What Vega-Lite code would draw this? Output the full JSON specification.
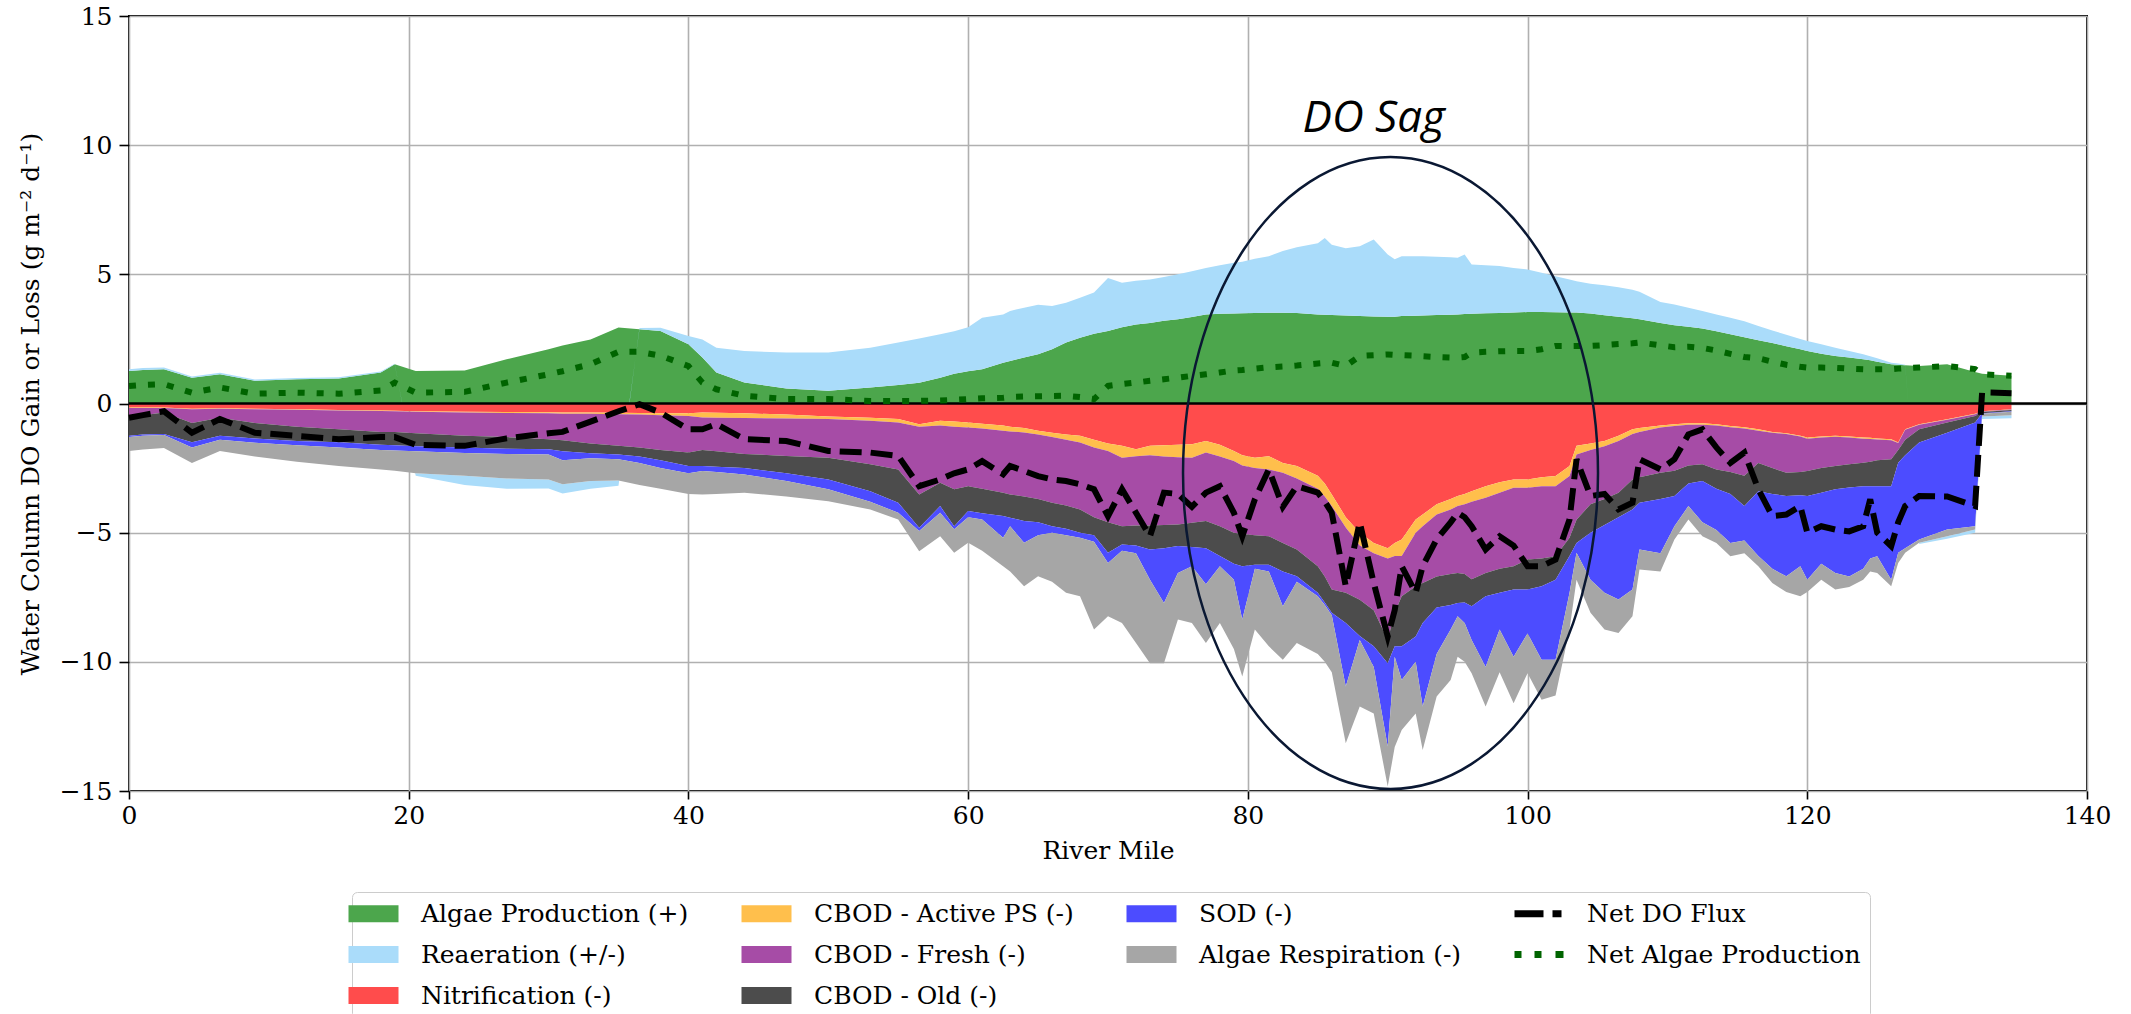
{
  "$schema": "https://vega.github.io/schema/vega-lite/v6.json",
  "width": 1958,
  "height": 775,
  "autosize": {"type": "none"},
  "padding": {"left": 129, "top": 16, "right": 44, "bottom": 223},
  "background": "white",
  "config": {
    "view": {"stroke": "black", "strokeWidth": 2},
    "font": "DejaVu Serif, Liberation Serif, serif",
    "axis": {"grid": true, "gridColor": "#b0b0b0", "gridWidth": 1.6, "domain": false, "tickColor": "black", "tickWidth": 1.6, "labelFont": "DejaVu Serif, Liberation Serif, serif", "labelFontSize": 25, "labelColor": "black", "labelFlush": false, "labelOverlap": false, "titleFont": "DejaVu Serif, Liberation Serif, serif", "titleFontSize": 25, "titleFontWeight": "normal", "titleColor": "black", "zindex": 1}
  },
  "title": {"text": "2020-07-01", "font": "DejaVu Serif, Liberation Serif, serif", "fontSize": 30, "fontWeight": "normal", "color": "black", "offset": 12, "baseline": "alphabetic", "anchor": "middle"},
  "datasets": {
    "flux": [
      {"x": 0, "ap": 1.26, "re": 0.07, "ni": -0.15, "ca": -0.02, "cf": -0.33, "co": -0.75, "sod": -0.05, "ar": -0.54, "ndo": -0.55, "nap": 0.68},
      {"x": 1, "ap": 1.3, "re": 0.07, "ni": -0.15, "ca": -0.02, "cf": -0.28, "co": -0.75, "sod": -0.05, "ar": -0.53, "ndo": -0.45, "nap": 0.72},
      {"x": 2.5, "ap": 1.33, "re": 0.06, "ni": -0.15, "ca": -0.02, "cf": -0.18, "co": -0.83, "sod": -0.04, "ar": -0.5, "ndo": -0.3, "nap": 0.75},
      {"x": 4.5, "ap": 1.0, "re": 0.05, "ni": -0.2, "ca": -0.02, "cf": -0.53, "co": -0.75, "sod": -0.2, "ar": -0.6, "ndo": -1.13, "nap": 0.42},
      {"x": 6.5, "ap": 1.13, "re": 0.06, "ni": -0.18, "ca": -0.02, "cf": -0.35, "co": -0.7, "sod": -0.15, "ar": -0.44, "ndo": -0.6, "nap": 0.62},
      {"x": 9, "ap": 0.88, "re": 0.05, "ni": -0.2, "ca": -0.02, "cf": -0.53, "co": -0.6, "sod": -0.17, "ar": -0.53, "ndo": -1.13, "nap": 0.38},
      {"x": 12, "ap": 0.94, "re": 0.05, "ni": -0.22, "ca": -0.02, "cf": -0.66, "co": -0.55, "sod": -0.17, "ar": -0.63, "ndo": -1.25, "nap": 0.42},
      {"x": 15, "ap": 0.97, "re": 0.05, "ni": -0.25, "ca": -0.02, "cf": -0.73, "co": -0.5, "sod": -0.2, "ar": -0.72, "ndo": -1.38, "nap": 0.38},
      {"x": 18, "ap": 1.2, "re": 0.04, "ni": -0.27, "ca": -0.02, "cf": -0.81, "co": -0.5, "sod": -0.2, "ar": -0.75, "ndo": -1.3, "nap": 0.5},
      {"x": 19, "ap": 1.52, "re": 0.02, "ni": -0.28, "ca": -0.02, "cf": -0.8, "co": -0.52, "sod": -0.2, "ar": -0.78, "ndo": -1.3, "nap": 0.81},
      {"x": 20.5, "ap": 1.26, "re": -0.1, "ni": -0.3, "ca": -0.02, "cf": -0.83, "co": -0.5, "sod": -0.2, "ar": -0.85, "ndo": -1.6, "nap": 0.42},
      {"x": 24, "ap": 1.28, "re": -0.35, "ni": -0.32, "ca": -0.03, "cf": -0.9, "co": -0.45, "sod": -0.22, "ar": -0.88, "ndo": -1.64, "nap": 0.45},
      {"x": 27, "ap": 1.71, "re": -0.4, "ni": -0.33, "ca": -0.04, "cf": -0.93, "co": -0.45, "sod": -0.2, "ar": -0.95, "ndo": -1.35, "nap": 0.81},
      {"x": 30, "ap": 2.1, "re": -0.35, "ni": -0.34, "ca": -0.04, "cf": -1.0, "co": -0.39, "sod": -0.2, "ar": -0.97, "ndo": -1.15, "nap": 1.13},
      {"x": 31, "ap": 2.25, "re": -0.35, "ni": -0.35, "ca": -0.05, "cf": -1.02, "co": -0.43, "sod": -0.35, "ar": -0.93, "ndo": -1.1, "nap": 1.25},
      {"x": 33, "ap": 2.48, "re": -0.3, "ni": -0.35, "ca": -0.05, "cf": -1.15, "co": -0.38, "sod": -0.19, "ar": -0.88, "ndo": -0.7, "nap": 1.52},
      {"x": 35, "ap": 2.94, "re": -0.2, "ni": -0.36, "ca": -0.06, "cf": -1.22, "co": -0.33, "sod": -0.19, "ar": -0.82, "ndo": -0.3, "nap": 2.0},
      {"x": 36.5, "ap": 2.87, "re": 0.05, "ni": -0.37, "ca": -0.06, "cf": -1.27, "co": -0.35, "sod": -0.25, "ar": -0.85, "ndo": -0.03, "nap": 2.0},
      {"x": 38, "ap": 2.81, "re": 0.12, "ni": -0.38, "ca": -0.07, "cf": -1.35, "co": -0.4, "sod": -0.3, "ar": -0.8, "ndo": -0.35, "nap": 1.85},
      {"x": 40, "ap": 2.29, "re": 0.32, "ni": -0.38, "ca": -0.1, "cf": -1.42, "co": -0.52, "sod": -0.28, "ar": -0.8, "ndo": -1.0, "nap": 1.45},
      {"x": 41, "ap": 1.78, "re": 0.7, "ni": -0.35, "ca": -0.19, "cf": -1.26, "co": -0.62, "sod": -0.19, "ar": -0.91, "ndo": -1.0, "nap": 0.81},
      {"x": 42, "ap": 1.2, "re": 0.96, "ni": -0.36, "ca": -0.19, "cf": -1.3, "co": -0.6, "sod": -0.2, "ar": -0.85, "ndo": -0.8, "nap": 0.55},
      {"x": 44, "ap": 0.81, "re": 1.22, "ni": -0.38, "ca": -0.18, "cf": -1.39, "co": -0.55, "sod": -0.25, "ar": -0.7, "ndo": -1.38, "nap": 0.3},
      {"x": 47, "ap": 0.58, "re": 1.39, "ni": -0.43, "ca": -0.15, "cf": -1.45, "co": -0.67, "sod": -0.3, "ar": -0.6, "ndo": -1.45, "nap": 0.17},
      {"x": 50, "ap": 0.49, "re": 1.48, "ni": -0.5, "ca": -0.1, "cf": -1.5, "co": -0.84, "sod": -0.38, "ar": -0.46, "ndo": -1.84, "nap": 0.17},
      {"x": 53, "ap": 0.62, "re": 1.54, "ni": -0.55, "ca": -0.12, "cf": -1.68, "co": -1.05, "sod": -0.4, "ar": -0.3, "ndo": -1.9, "nap": 0.1},
      {"x": 55, "ap": 0.72, "re": 1.64, "ni": -0.6, "ca": -0.14, "cf": -1.81, "co": -1.29, "sod": -0.39, "ar": -0.26, "ndo": -2.03, "nap": 0.1},
      {"x": 56.5, "ap": 0.8, "re": 1.72, "ni": -0.8, "ca": -0.1, "cf": -2.62, "co": -1.29, "sod": -0.13, "ar": -0.78, "ndo": -3.2, "nap": 0.1},
      {"x": 58, "ap": 1.0, "re": 1.68, "ni": -0.67, "ca": -0.18, "cf": -2.22, "co": -0.9, "sod": -0.26, "ar": -0.91, "ndo": -2.94, "nap": 0.12},
      {"x": 59, "ap": 1.15, "re": 1.65, "ni": -0.7, "ca": -0.2, "cf": -2.42, "co": -1.43, "sod": -0.12, "ar": -0.91, "ndo": -2.7, "nap": 0.14},
      {"x": 60, "ap": 1.25, "re": 1.7, "ni": -0.74, "ca": -0.19, "cf": -2.27, "co": -0.96, "sod": -0.24, "ar": -0.99, "ndo": -2.55, "nap": 0.17},
      {"x": 61, "ap": 1.33, "re": 1.99, "ni": -0.78, "ca": -0.19, "cf": -2.33, "co": -0.95, "sod": -0.24, "ar": -1.21, "ndo": -2.23, "nap": 0.2},
      {"x": 62.5, "ap": 1.58, "re": 1.87, "ni": -0.85, "ca": -0.2, "cf": -2.4, "co": -0.9, "sod": -0.85, "ar": -1.1, "ndo": -2.74, "nap": 0.22},
      {"x": 63, "ap": 1.65, "re": 1.93, "ni": -0.9, "ca": -0.18, "cf": -2.44, "co": -0.9, "sod": -0.33, "ar": -1.75, "ndo": -2.42, "nap": 0.25},
      {"x": 64, "ap": 1.78, "re": 1.93, "ni": -0.95, "ca": -0.17, "cf": -2.48, "co": -0.95, "sod": -0.84, "ar": -1.68, "ndo": -2.61, "nap": 0.27},
      {"x": 65, "ap": 1.91, "re": 1.91, "ni": -1.05, "ca": -0.15, "cf": -2.5, "co": -0.9, "sod": -0.5, "ar": -1.59, "ndo": -2.81, "nap": 0.28},
      {"x": 66, "ap": 2.1, "re": 1.67, "ni": -1.13, "ca": -0.17, "cf": -2.54, "co": -0.91, "sod": -0.25, "ar": -1.9, "ndo": -2.94, "nap": 0.29},
      {"x": 67, "ap": 2.36, "re": 1.54, "ni": -1.2, "ca": -0.2, "cf": -2.55, "co": -0.9, "sod": -0.25, "ar": -2.23, "ndo": -3.0, "nap": 0.3},
      {"x": 68, "ap": 2.55, "re": 1.54, "ni": -1.25, "ca": -0.26, "cf": -2.59, "co": -0.9, "sod": -0.2, "ar": -2.26, "ndo": -3.13, "nap": 0.25},
      {"x": 69, "ap": 2.7, "re": 1.6, "ni": -1.4, "ca": -0.3, "cf": -2.7, "co": -0.7, "sod": -0.25, "ar": -3.4, "ndo": -3.32, "nap": 0.17},
      {"x": 70, "ap": 2.81, "re": 2.05, "ni": -1.55, "ca": -0.29, "cf": -2.76, "co": -1.18, "sod": -0.39, "ar": -2.07, "ndo": -4.36, "nap": 0.68},
      {"x": 71, "ap": 2.95, "re": 1.72, "ni": -1.64, "ca": -0.46, "cf": -2.65, "co": -0.71, "sod": -0.24, "ar": -2.8, "ndo": -3.32, "nap": 0.75},
      {"x": 72, "ap": 3.06, "re": 1.69, "ni": -1.77, "ca": -0.27, "cf": -2.68, "co": -0.78, "sod": -0.3, "ar": -3.47, "ndo": -4.23, "nap": 0.81},
      {"x": 73, "ap": 3.12, "re": 1.68, "ni": -1.64, "ca": -0.36, "cf": -2.72, "co": -0.93, "sod": -1.17, "ar": -3.23, "ndo": -5.14, "nap": 0.88},
      {"x": 74, "ap": 3.2, "re": 1.7, "ni": -1.62, "ca": -0.43, "cf": -2.65, "co": -0.9, "sod": -2.12, "ar": -2.33, "ndo": -3.45, "nap": 0.94},
      {"x": 75, "ap": 3.26, "re": 1.74, "ni": -1.6, "ca": -0.48, "cf": -2.6, "co": -0.84, "sod": -1.04, "ar": -1.8, "ndo": -3.5, "nap": 1.0},
      {"x": 76, "ap": 3.35, "re": 1.77, "ni": -1.58, "ca": -0.52, "cf": -2.52, "co": -0.93, "sod": -0.75, "ar": -2.2, "ndo": -4.0, "nap": 1.07},
      {"x": 77, "ap": 3.45, "re": 1.8, "ni": -1.45, "ca": -0.45, "cf": -2.65, "co": -1.05, "sod": -1.4, "ar": -2.27, "ndo": -3.45, "nap": 1.13},
      {"x": 78, "ap": 3.47, "re": 1.88, "ni": -1.6, "ca": -0.45, "cf": -2.7, "co": -1.15, "sod": -0.4, "ar": -2.2, "ndo": -3.2, "nap": 1.2},
      {"x": 79, "ap": 3.48, "re": 1.97, "ni": -1.84, "ca": -0.39, "cf": -2.77, "co": -1.2, "sod": -0.62, "ar": -2.68, "ndo": -4.23, "nap": 1.28},
      {"x": 79.6, "ap": 3.49, "re": 2.0, "ni": -2.0, "ca": -0.4, "cf": -2.65, "co": -1.25, "sod": -2.06, "ar": -2.21, "ndo": -5.14, "nap": 1.3},
      {"x": 80.5, "ap": 3.5, "re": 2.1, "ni": -2.1, "ca": -0.4, "cf": -2.6, "co": -1.14, "sod": -0.16, "ar": -2.35, "ndo": -3.71, "nap": 1.35},
      {"x": 81.5, "ap": 3.51, "re": 2.19, "ni": -2.04, "ca": -0.51, "cf": -2.59, "co": -1.1, "sod": -0.26, "ar": -2.9, "ndo": -2.55, "nap": 1.4},
      {"x": 82.5, "ap": 3.51, "re": 2.39, "ni": -2.3, "ca": -0.38, "cf": -2.72, "co": -1.1, "sod": -1.35, "ar": -2.07, "ndo": -4.0, "nap": 1.43},
      {"x": 83.5, "ap": 3.5, "re": 2.55, "ni": -2.42, "ca": -0.48, "cf": -2.75, "co": -1.04, "sod": -0.21, "ar": -2.37, "ndo": -3.2, "nap": 1.47},
      {"x": 85, "ap": 3.45, "re": 2.75, "ni": -2.8, "ca": -0.5, "cf": -3.0, "co": -1.03, "sod": -0.13, "ar": -2.24, "ndo": -3.45, "nap": 1.55},
      {"x": 85.5, "ap": 3.44, "re": 2.97, "ni": -3.1, "ca": -0.5, "cf": -3.1, "co": -1.0, "sod": -0.1, "ar": -2.2, "ndo": -3.8, "nap": 1.57},
      {"x": 86, "ap": 3.43, "re": 2.72, "ni": -3.52, "ca": -0.45, "cf": -3.23, "co": -0.9, "sod": -0.1, "ar": -2.2, "ndo": -4.23, "nap": 1.58},
      {"x": 87, "ap": 3.41, "re": 2.6, "ni": -4.4, "ca": -0.4, "cf": -2.53, "co": -1.17, "sod": -2.45, "ar": -2.2, "ndo": -7.07, "nap": 1.45},
      {"x": 88, "ap": 3.39, "re": 2.7, "ni": -5.0, "ca": -0.5, "cf": -2.1, "co": -1.4, "sod": -0.15, "ar": -2.58, "ndo": -4.6, "nap": 1.84},
      {"x": 89, "ap": 3.37, "re": 2.98, "ni": -5.4, "ca": -0.4, "cf": -2.2, "co": -1.4, "sod": -0.8, "ar": -1.8, "ndo": -6.95, "nap": 1.87},
      {"x": 90, "ap": 3.36, "re": 2.41, "ni": -5.6, "ca": -0.4, "cf": -3.15, "co": -0.9, "sod": -3.23, "ar": -1.55, "ndo": -9.02, "nap": 1.9},
      {"x": 90.5, "ap": 3.36, "re": 2.22, "ni": -5.4, "ca": -0.5, "cf": -2.2, "co": -1.3, "sod": -0.4, "ar": -3.5, "ndo": -8.0, "nap": 1.88},
      {"x": 91, "ap": 3.39, "re": 2.31, "ni": -5.26, "ca": -0.64, "cf": -1.56, "co": -1.94, "sod": -1.3, "ar": -1.94, "ndo": -6.3, "nap": 1.87},
      {"x": 92, "ap": 3.4, "re": 2.3, "ni": -4.49, "ca": -0.51, "cf": -2.07, "co": -1.95, "sod": -0.98, "ar": -2.0, "ndo": -7.33, "nap": 1.85},
      {"x": 92.5, "ap": 3.41, "re": 2.29, "ni": -4.3, "ca": -0.45, "cf": -2.2, "co": -1.55, "sod": -3.23, "ar": -1.68, "ndo": -6.3, "nap": 1.83},
      {"x": 93.5, "ap": 3.43, "re": 2.25, "ni": -3.9, "ca": -0.4, "cf": -2.4, "co": -1.2, "sod": -1.8, "ar": -1.64, "ndo": -5.26, "nap": 1.8},
      {"x": 94.5, "ap": 3.44, "re": 2.22, "ni": -3.7, "ca": -0.4, "cf": -2.5, "co": -1.2, "sod": -0.95, "ar": -1.95, "ndo": -4.6, "nap": 1.78},
      {"x": 95, "ap": 3.45, "re": 2.19, "ni": -3.58, "ca": -0.39, "cf": -2.59, "co": -1.16, "sod": -0.52, "ar": -1.56, "ndo": -4.23, "nap": 1.78},
      {"x": 95.5, "ap": 3.46, "re": 2.31, "ni": -3.5, "ca": -0.4, "cf": -2.7, "co": -1.1, "sod": -0.8, "ar": -1.5, "ndo": -4.4, "nap": 1.8},
      {"x": 96, "ap": 3.47, "re": 1.91, "ni": -3.4, "ca": -0.4, "cf": -3.0, "co": -1.05, "sod": -1.3, "ar": -1.29, "ndo": -4.75, "nap": 1.97},
      {"x": 97, "ap": 3.49, "re": 1.86, "ni": -3.2, "ca": -0.45, "cf": -2.91, "co": -0.9, "sod": -2.74, "ar": -1.53, "ndo": -5.65, "nap": 2.0},
      {"x": 98, "ap": 3.5, "re": 1.82, "ni": -3.05, "ca": -0.4, "cf": -2.95, "co": -0.93, "sod": -1.42, "ar": -1.65, "ndo": -5.14, "nap": 2.02},
      {"x": 99, "ap": 3.52, "re": 1.73, "ni": -2.94, "ca": -0.32, "cf": -3.04, "co": -0.9, "sod": -2.6, "ar": -1.8, "ndo": -5.5, "nap": 2.03},
      {"x": 100, "ap": 3.54, "re": 1.65, "ni": -2.94, "ca": -0.32, "cf": -2.78, "co": -1.16, "sod": -1.7, "ar": -1.54, "ndo": -6.3, "nap": 2.03},
      {"x": 101, "ap": 3.54, "re": 1.52, "ni": -2.85, "ca": -0.35, "cf": -2.8, "co": -1.07, "sod": -2.85, "ar": -1.55, "ndo": -6.3, "nap": 2.1},
      {"x": 102, "ap": 3.53, "re": 1.4, "ni": -2.81, "ca": -0.39, "cf": -2.71, "co": -0.91, "sod": -3.1, "ar": -1.38, "ndo": -6.04, "nap": 2.23},
      {"x": 103, "ap": 3.52, "re": 1.28, "ni": -2.42, "ca": -0.39, "cf": -2.39, "co": -0.7, "sod": -1.43, "ar": -1.42, "ndo": -4.49, "nap": 2.23},
      {"x": 103.5, "ap": 3.52, "re": 1.21, "ni": -1.64, "ca": -0.33, "cf": -2.53, "co": -0.9, "sod": -0.38, "ar": -1.04, "ndo": -2.16, "nap": 2.23},
      {"x": 104.5, "ap": 3.48, "re": 1.16, "ni": -1.55, "ca": -0.25, "cf": -2.1, "co": -1.1, "sod": -1.82, "ar": -1.28, "ndo": -3.58, "nap": 2.23},
      {"x": 105.5, "ap": 3.42, "re": 1.16, "ni": -1.45, "ca": -0.2, "cf": -2.05, "co": -1.0, "sod": -2.63, "ar": -1.42, "ndo": -3.5, "nap": 2.26},
      {"x": 106.5, "ap": 3.36, "re": 1.14, "ni": -1.25, "ca": -0.2, "cf": -2.0, "co": -0.95, "sod": -3.19, "ar": -1.29, "ndo": -4.1, "nap": 2.3},
      {"x": 107.5, "ap": 3.3, "re": 1.1, "ni": -1.0, "ca": -0.18, "cf": -1.76, "co": -1.16, "sod": -3.1, "ar": -1.04, "ndo": -3.84, "nap": 2.33},
      {"x": 108, "ap": 3.26, "re": 1.07, "ni": -0.95, "ca": -0.15, "cf": -1.75, "co": -0.99, "sod": -1.81, "ar": -0.78, "ndo": -2.16, "nap": 2.36},
      {"x": 109.5, "ap": 3.12, "re": 0.81, "ni": -0.85, "ca": -0.08, "cf": -1.75, "co": -1.02, "sod": -2.1, "ar": -0.7, "ndo": -2.55, "nap": 2.25},
      {"x": 110.5, "ap": 3.03, "re": 0.8, "ni": -0.8, "ca": -0.07, "cf": -1.73, "co": -0.98, "sod": -1.17, "ar": -0.51, "ndo": -2.16, "nap": 2.18},
      {"x": 111.5, "ap": 2.97, "re": 0.74, "ni": -0.76, "ca": -0.06, "cf": -1.58, "co": -0.7, "sod": -0.87, "ar": -0.52, "ndo": -1.2, "nap": 2.2},
      {"x": 112.5, "ap": 2.9, "re": 0.68, "ni": -0.76, "ca": -0.06, "cf": -1.53, "co": -0.65, "sod": -1.6, "ar": -0.54, "ndo": -1.0, "nap": 2.15},
      {"x": 113.5, "ap": 2.8, "re": 0.65, "ni": -0.8, "ca": -0.05, "cf": -1.7, "co": -0.75, "sod": -1.6, "ar": -0.5, "ndo": -1.7, "nap": 2.05},
      {"x": 114.5, "ap": 2.68, "re": 0.64, "ni": -0.87, "ca": -0.05, "cf": -1.73, "co": -0.85, "sod": -1.9, "ar": -0.51, "ndo": -2.3, "nap": 1.92},
      {"x": 115.5, "ap": 2.56, "re": 0.62, "ni": -0.92, "ca": -0.05, "cf": -1.83, "co": -1.17, "sod": -1.33, "ar": -0.5, "ndo": -1.9, "nap": 1.8},
      {"x": 116.5, "ap": 2.45, "re": 0.55, "ni": -1.0, "ca": -0.05, "cf": -1.25, "co": -1.1, "sod": -2.5, "ar": -0.4, "ndo": -3.32, "nap": 1.75},
      {"x": 117.5, "ap": 2.34, "re": 0.49, "ni": -1.1, "ca": -0.03, "cf": -1.37, "co": -1.0, "sod": -2.9, "ar": -0.55, "ndo": -4.36, "nap": 1.62},
      {"x": 118.5, "ap": 2.22, "re": 0.44, "ni": -1.15, "ca": -0.03, "cf": -1.5, "co": -0.9, "sod": -3.11, "ar": -0.61, "ndo": -4.3, "nap": 1.5},
      {"x": 119.5, "ap": 2.1, "re": 0.4, "ni": -1.25, "ca": -0.03, "cf": -1.37, "co": -0.9, "sod": -2.75, "ar": -1.16, "ndo": -3.97, "nap": 1.42},
      {"x": 120, "ap": 2.03, "re": 0.39, "ni": -1.32, "ca": -0.04, "cf": -1.25, "co": -0.97, "sod": -3.24, "ar": -0.48, "ndo": -5.0, "nap": 1.39},
      {"x": 121, "ap": 1.93, "re": 0.36, "ni": -1.28, "ca": -0.04, "cf": -1.18, "co": -0.95, "sod": -2.75, "ar": -0.62, "ndo": -4.75, "nap": 1.39},
      {"x": 122, "ap": 1.84, "re": 0.32, "ni": -1.25, "ca": -0.04, "cf": -1.13, "co": -0.9, "sod": -3.24, "ar": -0.64, "ndo": -4.88, "nap": 1.38},
      {"x": 123, "ap": 1.78, "re": 0.25, "ni": -1.28, "ca": -0.04, "cf": -1.03, "co": -0.9, "sod": -3.45, "ar": -0.4, "ndo": -4.95, "nap": 1.35},
      {"x": 124, "ap": 1.71, "re": 0.2, "ni": -1.32, "ca": -0.04, "cf": -0.93, "co": -0.91, "sod": -3.2, "ar": -0.42, "ndo": -4.75, "nap": 1.33},
      {"x": 124.5, "ap": 1.67, "re": 0.16, "ni": -1.33, "ca": -0.04, "cf": -0.88, "co": -0.95, "sod": -2.8, "ar": -0.5, "ndo": -3.71, "nap": 1.33},
      {"x": 125, "ap": 1.62, "re": 0.13, "ni": -1.35, "ca": -0.04, "cf": -0.81, "co": -1.0, "sod": -2.71, "ar": -0.65, "ndo": -5.0, "nap": 1.33},
      {"x": 126, "ap": 1.52, "re": 0.06, "ni": -1.38, "ca": -0.04, "cf": -0.74, "co": -1.04, "sod": -3.62, "ar": -0.25, "ndo": -5.52, "nap": 1.33},
      {"x": 126.5, "ap": 1.5, "re": 0.05, "ni": -1.51, "ca": -0.02, "cf": -0.27, "co": -0.49, "sod": -3.49, "ar": -0.39, "ndo": -4.6, "nap": 1.35},
      {"x": 127, "ap": 1.48, "re": 0.02, "ni": -1.0, "ca": -0.02, "cf": -0.38, "co": -0.6, "sod": -3.6, "ar": -0.18, "ndo": -3.97, "nap": 1.37},
      {"x": 128, "ap": 1.45, "re": -0.05, "ni": -0.8, "ca": -0.02, "cf": -0.18, "co": -0.51, "sod": -3.75, "ar": -0.13, "ndo": -3.58, "nap": 1.39},
      {"x": 130, "ap": 1.52, "re": -0.1, "ni": -0.61, "ca": -0.02, "cf": -0.11, "co": -0.39, "sod": -3.75, "ar": -0.26, "ndo": -3.6, "nap": 1.45},
      {"x": 132, "ap": 1.22, "re": -0.12, "ni": -0.4, "ca": -0.02, "cf": -0.06, "co": -0.26, "sod": -4.01, "ar": -0.13, "ndo": -3.97, "nap": 1.33},
      {"x": 132.5, "ap": 1.15, "re": -0.1, "ni": -0.3, "ca": -0.01, "cf": -0.02, "co": -0.05, "sod": -0.02, "ar": -0.1, "ndo": 0.43, "nap": 1.13},
      {"x": 134.6, "ap": 1.07, "re": -0.12, "ni": -0.22, "ca": -0.01, "cf": -0.02, "co": -0.05, "sod": -0.02, "ar": -0.13, "ndo": 0.4, "nap": 1.07}
    ]
  },
  "layer": [
    {
      "data": {"name": "flux"},
      "transform": [
        {"fold": ["ap", "re", "ni", "ca", "cf", "co", "sod", "ar"], "as": ["key", "v"]},
        {"lookup": "key", "from": {"data": {"values": [
          {"key": "ap", "Component": "Algae Production (+)", "ord": 1},
          {"key": "ni", "Component": "Nitrification (-)", "ord": 2},
          {"key": "ca", "Component": "CBOD - Active PS (-)", "ord": 3},
          {"key": "cf", "Component": "CBOD - Fresh (-)", "ord": 4},
          {"key": "co", "Component": "CBOD - Old (-)", "ord": 5},
          {"key": "sod", "Component": "SOD (-)", "ord": 6},
          {"key": "ar", "Component": "Algae Respiration (-)", "ord": 7},
          {"key": "re", "Component": "Reaeration (+/-)", "ord": 8}
        ]}, "key": "key", "fields": ["Component", "ord"]}}
      ],
      "mark": {"type": "area", "opacity": 1, "interpolate": "linear"},
      "encoding": {
        "x": {"field": "x", "type": "quantitative", "scale": {"domain": [0, 140], "nice": false, "zero": false},
          "title": "River Mile",
          "axis": {"values": [0, 20, 40, 60, 80, 100, 120, 140], "format": "d", "tickSize": 8, "labelPadding": 4, "titlePadding": 10}},
        "y": {"field": "v", "type": "quantitative", "stack": "zero", "scale": {"domain": [-15, 15], "nice": false},
          "title": "Water Column DO Gain or Loss (g m⁻² d⁻¹)",
          "axis": {"values": [-15, -10, -5, 0, 5, 10, 15], "format": "d", "tickSize": 10, "labelPadding": 7, "titlePadding": 16}},
        "color": {"field": "Component", "type": "nominal",
          "scale": {
            "domain": ["Algae Production (+)", "CBOD - Active PS (-)", "SOD (-)", "Net DO Flux", "Reaeration (+/-)", "CBOD - Fresh (-)", "Algae Respiration (-)", "Net Algae Production", "Nitrification (-)", "CBOD - Old (-)"],
            "range": ["#4ca64c", "#ffbf4c", "#4c4cff", "#000000", "#aadcfa", "#a64ca6", "#a6a6a6", "#006400", "#ff4c4c", "#4c4c4c"]
          },
          "legend": {
            "title": null, "orient": "none", "legendX": 223, "legendY": 876, "columns": 4, "direction": "horizontal",
            "symbolSize": 400, "symbolType": "M-2.5,-0.85H2.5V0.85H-2.5Z", "symbolStrokeWidth": 0, "symbolOpacity": 1,
            "labelFont": "DejaVu Serif, Liberation Serif, serif", "labelFontSize": 25, "labelColor": "black", "labelOffset": 35, "labelLimit": 0,
            "columnPadding": 52, "rowPadding": 15, "padding": 9, "strokeColor": "#cccccc", "fillColor": "white", "cornerRadius": 5,
            "encode": {"symbols": {"update": {
              "shape": {"signal": "datum.value === 'Net DO Flux' ? 'M-2.5,-0.35H0.4V0.35H-2.5Z M1.3,-0.35H2.2V0.35H1.3Z' : (datum.value === 'Net Algae Production' ? 'M-2.5,-0.35H-1.8V0.35H-2.5Z M-0.5,-0.35H0.2V0.35H-0.5Z M1.6,-0.35H2.4V0.35H1.6Z' : 'M-2.5,-0.85H2.5V0.85H-2.5Z')"}
            }}}
          }},
        "order": {"field": "ord", "type": "quantitative"}
      }
    },
    {
      "data": {"values": [{}]},
      "mark": {"type": "rule", "color": "black", "strokeWidth": 2.5},
      "encoding": {"y": {"datum": 0, "type": "quantitative", "title": "Water Column DO Gain or Loss (g m⁻² d⁻¹)"}}
    },
    {
      "data": {"name": "flux"},
      "mark": {"type": "line", "color": "#006400", "strokeWidth": 6, "strokeDash": [7, 12], "strokeCap": "butt"},
      "encoding": {
        "x": {"field": "x", "type": "quantitative", "title": "River Mile"},
        "y": {"field": "nap", "type": "quantitative", "title": "Water Column DO Gain or Loss (g m⁻² d⁻¹)"}
      }
    },
    {
      "data": {"name": "flux"},
      "mark": {"type": "line", "color": "black", "strokeWidth": 6, "strokeDash": [22, 9], "strokeCap": "butt"},
      "encoding": {
        "x": {"field": "x", "type": "quantitative", "title": "River Mile"},
        "y": {"field": "ndo", "type": "quantitative", "title": "Water Column DO Gain or Loss (g m⁻² d⁻¹)"}
      }
    },
    {
      "data": {"values": [{"x": 90.2, "y": -2.69}]},
      "mark": {"type": "point", "shape": "M-0.6566,0A0.6566,1,0,1,0,0.6566,0A0.6566,1,0,1,0,-0.6566,0Z", "size": 399424, "filled": false, "stroke": "#0a1833", "strokeWidth": 2.5, "opacity": 1},
      "encoding": {
        "x": {"field": "x", "type": "quantitative", "title": "River Mile"},
        "y": {"field": "y", "type": "quantitative", "title": "Water Column DO Gain or Loss (g m⁻² d⁻¹)"}
      }
    },
    {
      "data": {"values": [{"x": 89, "y": 10.5, "label": "DO Sag"}]},
      "mark": {"type": "text", "font": "Open Sans", "fontStyle": "italic", "fontSize": 44, "align": "center", "baseline": "alphabetic", "color": "black"},
      "encoding": {
        "x": {"field": "x", "type": "quantitative", "title": "River Mile"},
        "y": {"field": "y", "type": "quantitative", "title": "Water Column DO Gain or Loss (g m⁻² d⁻¹)"},
        "text": {"field": "label"}
      }
    }
  ]
}
